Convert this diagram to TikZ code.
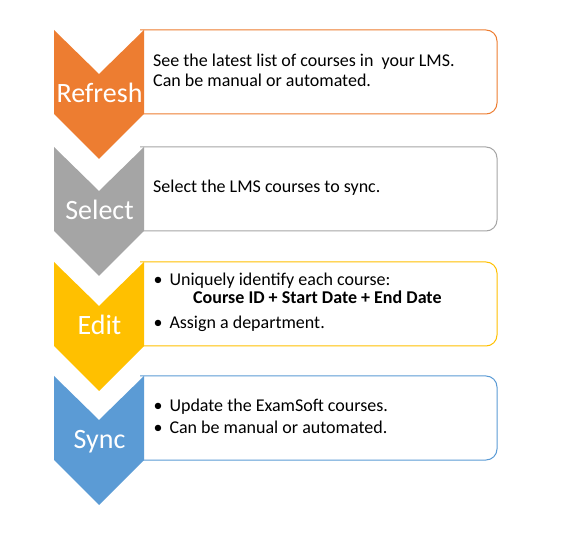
\documentclass[tikz,border=0pt]{standalone}
\usepackage{fontspec}
\setmainfont{Carlito}
\definecolor{corange}{HTML}{ED7D31}
\definecolor{cgray}{HTML}{A5A5A5}
\definecolor{cgold}{HTML}{FFC000}
\definecolor{cblue}{HTML}{5B9BD5}
\newcommand\flowstage[4]{%
  \draw[draw=#2, fill=white, line width=1pt, rounded corners=11pt]
    (140,#1) -- (497,#1) -- (497,#1+84) -- (140,#1+84);
  \fill[#2] (54,#1) -- (99,#1+44) -- (144,#1) -- (144,#1+84) -- (99,#1+129) -- (54,#1+84) -- cycle;
  \node[lbl] (#4) at (99.5,#1+72.5) {#3};
}
\begin{document}
\begin{tikzpicture}[x=1pt,y=-1pt,
  txt/.style={anchor=base west, inner sep=0pt, font=\fontsize{18}{20}\selectfont},
  boldtxt/.style={anchor=base west, inner sep=0pt, font=\fontsize{18}{20}\selectfont\bfseries},
  lbl/.style={anchor=base, inner sep=0pt, text=white, font=\fontsize{28}{30}\selectfont}]
\useasboundingbox (0,0) rectangle (576,553);
\flowstage{30}{corange}{Refresh}{refresh}
\flowstage{147}{cgray}{Select}{select}
\flowstage{262}{cgold}{Edit}{edit}
\flowstage{376}{cblue}{Sync}{sync}
% box 1
\node[txt] (r1) at (153,66.7) {See the latest list of courses in\ \ your LMS.};
\node[txt] (r2) at (153,86.7) {Can be manual or automated.};
% box 2
\node[txt] (s1) at (153,192.7) {Select the LMS courses to sync.};
% box 3
\node[txt] (eb1) at (153.5,285.7) {•};
\node[txt] (e1) at (169.3,285.7) {Uniquely identify each course:};
\node[boldtxt] (e2) at (193,303.3) {Course ID + Start Date + End Date};
\node[txt] (eb2) at (153.5,328.3) {•};
\node[txt] (e3) at (169.3,328.3) {Assign a department.};
% box 4
\node[txt] (yb1) at (153.5,411.7) {•};
\node[txt] (y1) at (169.3,411.7) {Update the ExamSoft courses.};
\node[txt] (yb2) at (153.5,434) {•};
\node[txt] (y2) at (169.3,434) {Can be manual or automated.};
\end{tikzpicture}
\end{document}
